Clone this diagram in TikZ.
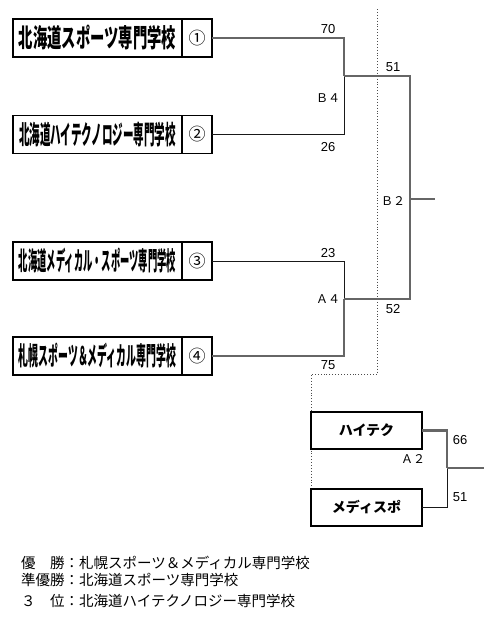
\documentclass[tikz,border=0pt]{standalone}
\usepackage{graphicx}
\usepackage{fontspec}
\setmainfont{Liberation Sans}
\newfontfamily\jp{Noto Sans CJK JP}

\tikzset{
	namebox/.style={draw, line width=1.2pt, fill=white, minimum width=169pt, minimum height=38pt, inner sep=0pt, outer sep=0pt},
	numbox/.style={draw, line width=1.2pt, fill=white, minimum width=30pt, minimum height=38pt, inner sep=0pt, outer sep=0pt, font=\jp\fontsize{17}{17}\selectfont},
	teambox/.style={draw, line width=1.2pt, fill=white, minimum width=111pt, minimum height=37pt, inner sep=0pt, outer sep=0pt, font=\jp\bfseries\fontsize{14}{14}\selectfont},
	win/.style={draw=black!60, line width=2.3pt},
	lose/.style={draw=black!90, line width=1pt},
	score/.style={inner sep=0pt, font=\fontsize{13}{13}\selectfont},
	round/.style={inner sep=0pt, font=\jp\fontsize{12}{12}\selectfont},
	result/.style={anchor=west, inner sep=0pt, font=\jp\fontsize{14.5}{14.5}\selectfont},
}
\newcommand{\schoolname}[1]{\resizebox*{157pt}{25pt}{\jp\bfseries #1}}

\begin{document}
\begin{tikzpicture}[x=1pt, y=-1pt]
		\useasboundingbox (0,0) rectangle (500,619);
		\coordinate (dtop) at (377,9);
		\coordinate (dbot) at (311,489);
		\draw[dotted, black!70, line width=0.9pt] (dtop) |- (311,374) -- (dbot);
		\foreach \n/\y/\name in {1/38/北海道スポーツ専門学校, 2/134.5/北海道ハイテクノロジー専門学校, 3/261/北海道メディカル・スポーツ専門学校, 4/356/札幌スポーツ＆メディカル専門学校}{
			\node[namebox] (s\n) at (97.5,\y) {\schoolname{\name}};
			\node[numbox, anchor=west] (n\n) at (s\n.east) {\ifcase\n\or ①\or ②\or ③\or ④\fi};
		}
		\coordinate (b4) at (344,76);
		\coordinate (a4) at (344,299);
		\coordinate (b2) at (410,199);
		\coordinate (champ) at (435,199);
		\draw[lose] (n2.east) -| (b4);
		\draw[lose] (n3.east) -| (a4);
		\draw[win] (n1.east) -| (b4);
		\draw[win] (n4.east) -| (a4);
		\draw[win] (b4) -| (b2);
		\draw[win] (a4) -| (b2);
		\draw[win] (b2) -- (champ);
		\node[teambox] (hb) at (366.5,430.5) {ハイテク};
		\node[teambox] (mb) at (366.5,507.5) {メディスポ};
		\coordinate (a2) at (447,468);
		\coordinate (third) at (484,468);
		\draw[lose] (mb.east) -| (a2);
		\draw[win] (hb.east) -| (a2);
		\draw[win] (a2) -- (third);
		\node[score] (sc1) at (328,29) {70};
		\node[score] (sc2) at (328,147) {26};
		\node[score] (sc3) at (328,253) {23};
		\node[score] (sc4) at (328,365) {75};
		\node[score] (sc5) at (393,67) {51};
		\node[score] (sc6) at (393,309) {52};
		\node[score] (sc7) at (460,440) {66};
		\node[score] (sc8) at (460,497) {51};
		\node[round] (rb4) at (328,98) {Ｂ４};
		\node[round] (ra4) at (328,299) {Ａ４};
		\node[round] (rb2) at (393,201) {Ｂ２};
		\node[round] (ra2) at (413,459) {Ａ２};
		\node[result] (r1) at (21,563) {優　勝：札幌スポーツ＆メディカル専門学校};
		\node[result] (r2) at (21,580) {準優勝：北海道スポーツ専門学校};
		\node[result] (r3) at (21,601) {３　位：北海道ハイテクノロジー専門学校};
	\end{tikzpicture}
\end{document}
